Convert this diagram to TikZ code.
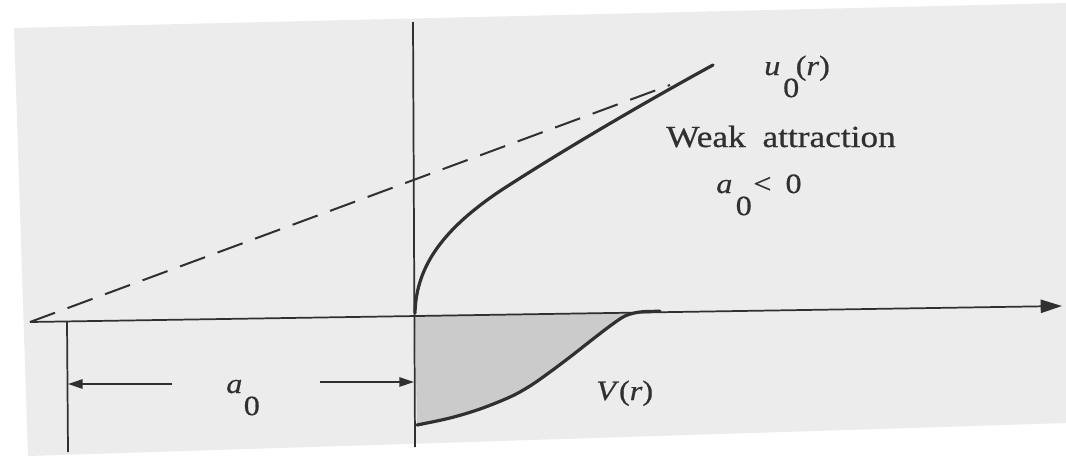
\documentclass[tikz,border=0pt]{standalone}
\usepackage{fontspec}
\setmainfont{Liberation Serif}[FakeStretch=1.15,FakeBold=0.6]
\usetikzlibrary{arrows.meta}
\definecolor{paper}{HTML}{EDECEC}
\definecolor{ink}{HTML}{303030}
\definecolor{shadegray}{HTML}{CBCBCB}
\begin{document}
\begin{tikzpicture}[x=0.75pt,y=-0.75pt,
  axisline/.style={draw=ink, line width=1.3pt},
  curveline/.style={draw=ink, line width=2.4pt, line cap=round, line join=round},
  dashline/.style={draw=ink, line width=1.5pt, dash pattern=on 20pt off 10pt},
  dimarrow/.style={draw=ink, line width=1.3pt, -{Triangle[length=11pt,width=7pt]}},
  lbl/.style={text=ink, inner sep=0pt, anchor=base west, font=\fontsize{21}{25}\selectfont},
  bigtext/.style={text=ink, inner sep=0pt, anchor=base west, font=\fontsize{23}{27}\selectfont}]
\useasboundingbox (0,0) rectangle (1066,457);
\fill[white] (0,0) rectangle (1066,457);
\fill[paper] (14,28) -- (1066,3) -- (1066,423) -- (28,456) -- cycle;
% coordinates
\coordinate (xl) at (30,322);
\coordinate (xr) at (1062,306);
\coordinate (vt) at (413,22);
\coordinate (vb) at (415,447);
\coordinate (lt) at (67,321);
\coordinate (lb) at (68,452);
\coordinate (la0) at (172,384);
\coordinate (la1) at (68,384);
\coordinate (ra0) at (320,382);
\coordinate (ra1) at (414,382);
\coordinate (dend) at (670,85);
\coordinate (u0s) at (415,313);
\coordinate (u0m) at (500,191);
\coordinate (u0e) at (713,65);
% shaded potential
\fill[shadegray] (415,315) -- (636,312)
  -- plot[smooth, tension=0.55] coordinates {(636,312) (625,316) (610,326) (593,339) (570,357) (550,372) (530,386) (510,397) (480,409) (450,418) (417,425)} -- cycle;
% axes
\draw[axisline, -{Triangle[length=16pt,width=10pt]}] (xl) -- (xr);
\draw[axisline] (vt) -- (vb);
\draw[axisline] (lt) -- (lb);
% dimension arrows
\draw[dimarrow] (la0) -- (la1);
\draw[dimarrow] (ra0) -- (ra1);
% dashed asymptote
\draw[dashline] (xl) -- (dend);
% wave function
\draw[curveline] (u0s) .. controls (416,265) and (445,228) .. (u0m) .. controls (560,152) and (640,105) .. (u0e);
% potential
\draw[curveline] plot[smooth, tension=0.55] coordinates {(417,425) (450,418) (480,409) (510,397) (530,386) (550,372) (570,357) (593,339) (610,326) (625,316) (640,312) (660,311.3)};
% labels
\node[lbl] (u0) at (764,75) {\textit{u}\rlap{\hspace{0.1em}\raisebox{-0.79em}{0}}\hspace{0.55em}(\textit{r})};
\node[bigtext] (weak) at (666,147) {Weak\hspace{0.55em}attraction};
\node[lbl] (acond) at (716,193) {\textit{a}\rlap{\hspace{0.12em}\raisebox{-0.79em}{0}}\hspace{0.75em}<\hspace{0.5em}0};
\node[lbl] (adim) at (226,393) {\textit{a}\hspace{0.05em}\raisebox{-0.79em}{0}};
\node[lbl] (vr) at (596,400) {\textit{V}(\textit{r})};
\end{tikzpicture}
\end{document}
